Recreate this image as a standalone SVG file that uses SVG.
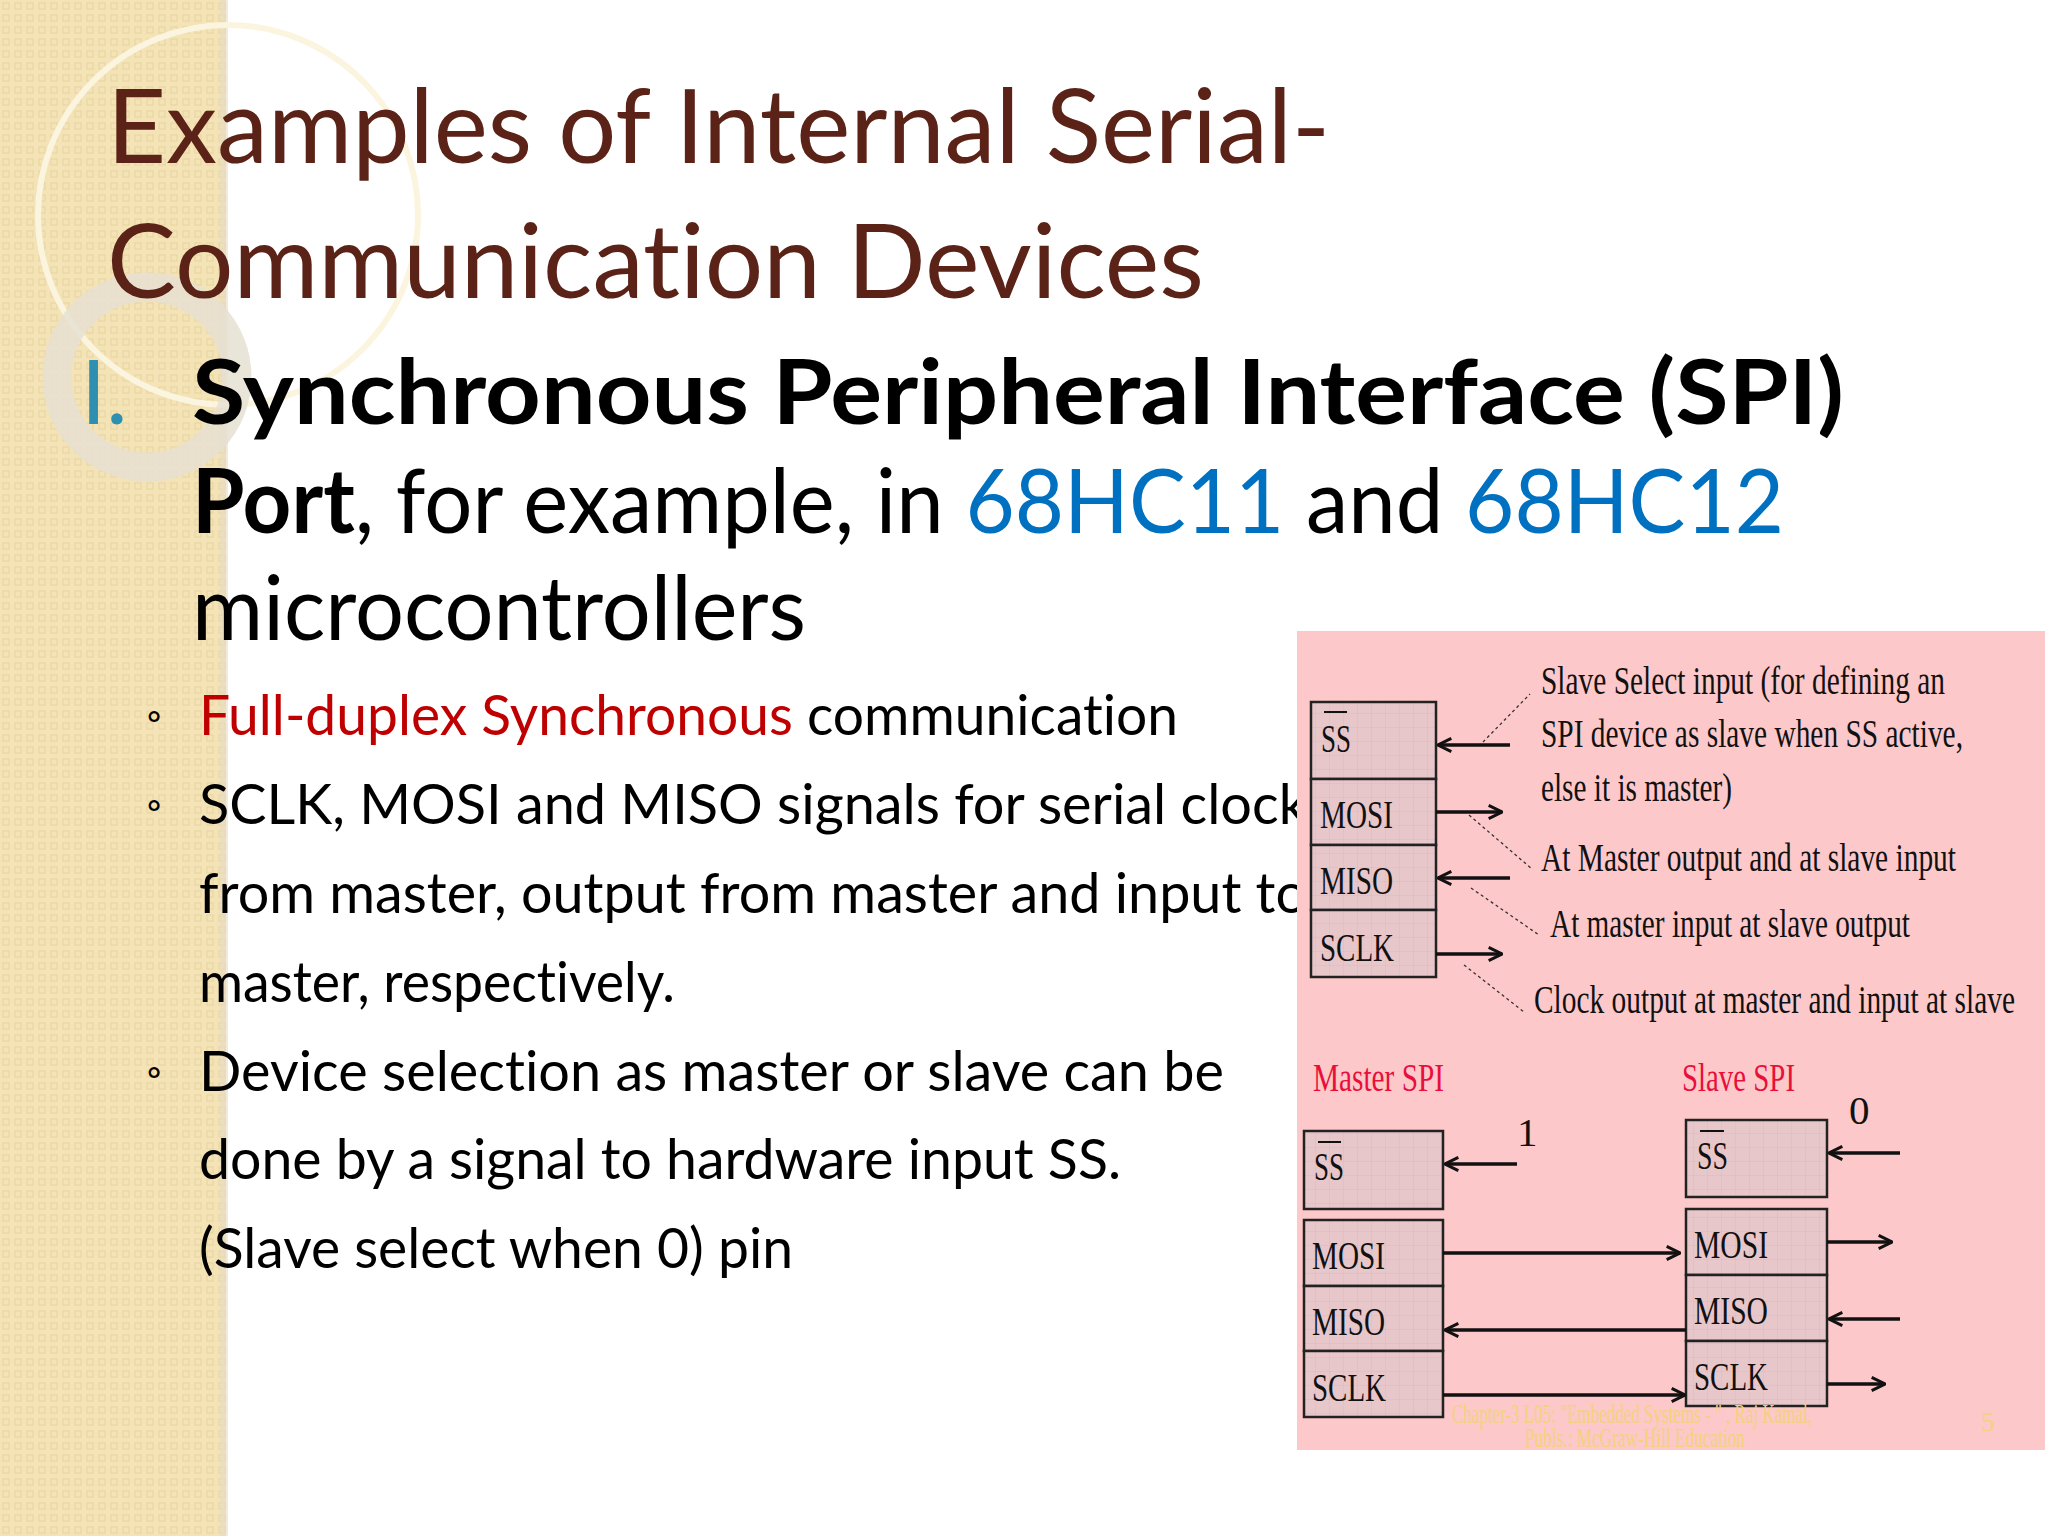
<svg xmlns="http://www.w3.org/2000/svg" width="2048" height="1536" viewBox="0 0 2048 1536">
<defs>
<pattern id="dots" width="12" height="12" patternUnits="userSpaceOnUse">
<rect width="12" height="12" fill="#f3e3b6"/>
<rect x="3" y="3" width="6" height="6" fill="none" stroke="#e9d6a0" stroke-width="1.2"/>
</pattern>
<pattern id="grid" width="14" height="14" patternUnits="userSpaceOnUse">
<rect width="14" height="14" fill="#e8c7ca"/>
<path d="M14,0 V14 M0,14 H14" stroke="#dcb9bd" stroke-width="1"/>
</pattern>
<marker id="ah" viewBox="0 0 12 12" refX="11" refY="6" markerWidth="16" markerHeight="16" markerUnits="userSpaceOnUse" orient="auto">
<path d="M1,1 L11,6 L1,11" fill="none" stroke="#111" stroke-width="2.2"/>
</marker>
<style>
text{font-variant-ligatures:none}
.title{font-family:Lato,"Open Sans",sans-serif;font-size:103px;fill:#5b2217}
.sub{font-family:Lato,"Open Sans",sans-serif;font-size:90px;fill:#000}
.bul{font-family:Lato,"Open Sans",sans-serif;font-size:56px;fill:#000}
.ser{font-family:"Liberation Serif",serif;font-size:41px;fill:#111}
.box{fill:url(#grid);stroke:#222;stroke-width:2.5}
.ar{stroke:#111;stroke-width:3.5;fill:none;marker-end:url(#ah)}
.dot{stroke:#333;stroke-width:1.3;stroke-dasharray:3 3;fill:none}
.red{fill:#e8103a}
.foot{font-family:"Liberation Serif",serif;font-size:28px;fill:#f2d27c}
</style>
</defs>
<rect width="2048" height="1536" fill="#fff"/>
<g id="sidebar">
<rect x="0" y="0" width="226" height="1536" fill="url(#dots)"/>
<rect x="220" y="0" width="8" height="1536" fill="#e7dcc4" opacity="0.6"/>
<circle cx="228" cy="215" r="190" fill="none" stroke="#fbf4de" stroke-width="6"/>
<circle cx="147" cy="377" r="90" fill="none" stroke="#e6e0d2" stroke-width="29" opacity="0.85"/>
</g>
<g id="title">
<text class="title" x="107" y="163" textLength="1223" lengthAdjust="spacingAndGlyphs">Examples of Internal Serial-</text>
<text class="title" x="107" y="298" textLength="1097" lengthAdjust="spacingAndGlyphs">Communication Devices</text>
</g>
<g id="heading">
<text class="sub" x="81" y="424" style="fill:#2e8fb0">I.</text>
<text class="sub" x="192" y="424" font-weight="bold" textLength="1652" lengthAdjust="spacingAndGlyphs">Synchronous Peripheral Interface (SPI)</text>
<text class="sub" x="192" y="533" textLength="1592" lengthAdjust="spacingAndGlyphs"><tspan font-weight="bold">Port</tspan>, for example, in <tspan style="fill:#0070c0">68HC11</tspan> and <tspan style="fill:#0070c0">68HC12</tspan></text>
<text class="sub" x="192" y="640" textLength="614" lengthAdjust="spacingAndGlyphs">microcontrollers</text>
</g>
<g id="bullets">
<text class="bul" x="146" y="730" style="font-size:40px">◦</text>
<text class="bul" x="146" y="819" style="font-size:40px">◦</text>
<text class="bul" x="146" y="1086" style="font-size:40px">◦</text>
<text class="bul" x="199" y="735" textLength="979" lengthAdjust="spacingAndGlyphs"><tspan style="fill:#c00000">Full-duplex Synchronous</tspan> communication</text>
<text class="bul" x="199" y="824" textLength="1108" lengthAdjust="spacingAndGlyphs">SCLK, MOSI and MISO signals for serial clock</text>
<text class="bul" x="199" y="913" textLength="1108" lengthAdjust="spacingAndGlyphs">from master, output from master and input to</text>
<text class="bul" x="199" y="1002" textLength="476" lengthAdjust="spacingAndGlyphs">master, respectively.</text>
<text class="bul" x="199" y="1091" textLength="1025" lengthAdjust="spacingAndGlyphs">Device selection as master or slave can be</text>
<text class="bul" x="199" y="1179" textLength="922" lengthAdjust="spacingAndGlyphs">done by a signal to hardware input SS.</text>
<text class="bul" x="199" y="1268" textLength="594" lengthAdjust="spacingAndGlyphs">(Slave select when 0) pin</text>
</g>
<rect id="panel" x="1297" y="631" width="748" height="819" fill="#fdc8c9"/>
<g id="top-box">
<rect class="box" x="1311" y="702" width="125" height="77"/>
<rect class="box" x="1311" y="779" width="125" height="66"/>
<rect class="box" x="1311" y="845" width="125" height="65"/>
<rect class="box" x="1311" y="910" width="125" height="67"/>
<line x1="1324" y1="712" x2="1347" y2="712" stroke="#111" stroke-width="2"/>
<text class="ser" x="1321" y="752" textLength="30" lengthAdjust="spacingAndGlyphs">SS</text>
<text class="ser" x="1320" y="828" textLength="73" lengthAdjust="spacingAndGlyphs">MOSI</text>
<text class="ser" x="1320" y="894" textLength="73" lengthAdjust="spacingAndGlyphs">MISO</text>
<text class="ser" x="1320" y="961" textLength="74" lengthAdjust="spacingAndGlyphs">SCLK</text>
</g>
<g id="descriptions">
<text class="ser" x="1541" y="694" textLength="404" lengthAdjust="spacingAndGlyphs">Slave Select input (for defining an</text>
<text class="ser" x="1541" y="747" textLength="422" lengthAdjust="spacingAndGlyphs">SPI device as slave when SS active,</text>
<text class="ser" x="1541" y="801" textLength="191" lengthAdjust="spacingAndGlyphs">else it is master)</text>
<text class="ser" x="1541" y="871" textLength="415" lengthAdjust="spacingAndGlyphs">At Master output and at slave input</text>
<text class="ser" x="1550" y="937" textLength="360" lengthAdjust="spacingAndGlyphs">At master input at slave output</text>
<text class="ser" x="1534" y="1013" textLength="481" lengthAdjust="spacingAndGlyphs">Clock output at master and input at slave</text>
</g>
<g id="master-spi">
<text class="ser red" x="1313" y="1091" textLength="131" lengthAdjust="spacingAndGlyphs">Master SPI</text>
<rect class="box" x="1304" y="1131" width="139" height="78"/>
<rect class="box" x="1304" y="1220" width="139" height="66"/>
<rect class="box" x="1304" y="1286" width="139" height="65"/>
<rect class="box" x="1304" y="1351" width="139" height="66"/>
<line x1="1318" y1="1142" x2="1341" y2="1142" stroke="#111" stroke-width="2"/>
<text class="ser" x="1314" y="1180" textLength="30" lengthAdjust="spacingAndGlyphs">SS</text>
<text class="ser" x="1312" y="1269" textLength="73" lengthAdjust="spacingAndGlyphs">MOSI</text>
<text class="ser" x="1312" y="1335" textLength="73" lengthAdjust="spacingAndGlyphs">MISO</text>
<text class="ser" x="1312" y="1401" textLength="74" lengthAdjust="spacingAndGlyphs">SCLK</text>
<text class="ser" x="1517" y="1146">1</text>
</g>
<g id="slave-spi">
<text class="ser red" x="1682" y="1091" textLength="113" lengthAdjust="spacingAndGlyphs">Slave SPI</text>
<rect class="box" x="1686" y="1120" width="141" height="77"/>
<rect class="box" x="1686" y="1209" width="141" height="66"/>
<rect class="box" x="1686" y="1275" width="141" height="66"/>
<rect class="box" x="1686" y="1341" width="141" height="65"/>
<line x1="1700" y1="1131" x2="1724" y2="1131" stroke="#111" stroke-width="2"/>
<text class="ser" x="1697" y="1169" textLength="31" lengthAdjust="spacingAndGlyphs">SS</text>
<text class="ser" x="1694" y="1258" textLength="74" lengthAdjust="spacingAndGlyphs">MOSI</text>
<text class="ser" x="1694" y="1324" textLength="74" lengthAdjust="spacingAndGlyphs">MISO</text>
<text class="ser" x="1694" y="1390" textLength="74" lengthAdjust="spacingAndGlyphs">SCLK</text>
<text class="ser" x="1849" y="1124">0</text>
</g>
<g id="connectors">
<line class="ar" x1="1510" y1="745" x2="1438" y2="745"/>
<line class="ar" x1="1436" y1="812" x2="1502" y2="812"/>
<line class="ar" x1="1510" y1="878" x2="1438" y2="878"/>
<line class="ar" x1="1436" y1="954" x2="1502" y2="954"/>
<line class="dot" x1="1483" y1="742" x2="1530" y2="694"/>
<line class="dot" x1="1469" y1="815" x2="1532" y2="869"/>
<line class="dot" x1="1471" y1="888" x2="1539" y2="935"/>
<line class="dot" x1="1464" y1="965" x2="1524" y2="1012"/>
<line class="ar" x1="1517" y1="1164" x2="1445" y2="1164"/>
<line class="ar" x1="1900" y1="1153" x2="1829" y2="1153"/>
<line class="ar" x1="1443" y1="1253" x2="1680" y2="1253"/>
<line class="ar" x1="1686" y1="1330" x2="1445" y2="1330"/>
<line class="ar" x1="1443" y1="1395" x2="1685" y2="1395"/>
<line class="ar" x1="1827" y1="1242" x2="1892" y2="1242"/>
<line class="ar" x1="1900" y1="1319" x2="1829" y2="1319"/>
<line class="ar" x1="1827" y1="1384" x2="1885" y2="1384"/>
</g>
<g id="footer">
<text class="foot" x="1452" y="1423" textLength="360" lengthAdjust="spacingAndGlyphs">Chapter-3 L05: "Embedded Systems - " , Raj Kamal,</text>
<text class="foot" x="1525" y="1447" textLength="220" lengthAdjust="spacingAndGlyphs">Publs.: McGraw-Hill Education</text>
<text class="foot" x="1981" y="1431">5</text>
</g>
</svg>
